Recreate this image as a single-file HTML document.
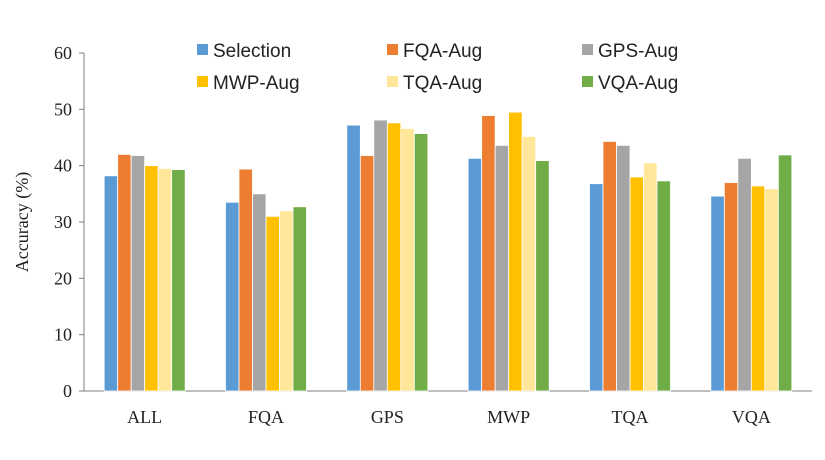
<!DOCTYPE html>
<html><head><meta charset="utf-8"><style>
body{margin:0;background:#fff;}
svg text{font-family:"Liberation Serif",serif;fill:#222;}
svg text.leg{font-family:"Liberation Sans",sans-serif;}
</style></head><body>
<svg id="chart" width="825" height="455"></svg>
<script>
const categories=["ALL","FQA","GPS","MWP","TQA","VQA"];
const seriesNames=["Selection","FQA-Aug","GPS-Aug","MWP-Aug","TQA-Aug","VQA-Aug"];
const colors=["#5b9bd5","#ed7d31","#a5a5a5","#ffc000","#ffe699","#70ad47"];
const selection=[38.2,33.5,47.2,41.3,36.8,34.6];
const fqaAug=[42.0,39.4,41.8,48.9,44.3,37.0];
const gpsAug=[41.8,35.0,48.1,43.6,43.6,41.3];
const mwpAug=[40.0,31.0,47.6,49.5,38.0,36.4];
const tqaAug=[39.5,32.0,46.6,45.2,40.5,35.9];
const vqaAug=[39.3,32.7,45.7,40.9,37.3,41.9];
const yTicks=[0,10,20,30,40,50,60];
const series=[selection,fqaAug,gpsAug,mwpAug,tqaAug,vqaAug];
const NS="http://www.w3.org/2000/svg";
const svg=document.getElementById("chart");
const x0=84,x1=812,yBase=391,yTop=53;
const y=v=>yBase-(v/60)*(yBase-yTop);
const gw=(x1-x0)/categories.length;
const bw=13.5;
function mk(t,a){const e=document.createElementNS(NS,t);for(const k in a)e.setAttribute(k,a[k]);svg.appendChild(e);return e;}
let ax=mk("line",{x1:x0,y1:yTop,x2:x0,y2:yBase,stroke:"#7f7f7f","stroke-width":1});


let bx=mk("line",{x1:x0,y1:yBase,x2:x1,y2:yBase,stroke:"#7f7f7f","stroke-width":1});


yTicks.forEach(t=>{
  const tk=mk("line",{x1:x0-5,y1:y(t),x2:x0,y2:y(t),stroke:"#7f7f7f"});
  
  
  const tl=mk("text",{x:x0-12,y:y(t)+6,"text-anchor":"end","font-size":"18"});
  tl.textContent=t;
  
  
});
const yt=mk("text",{x:0,y:0,"text-anchor":"middle","font-size":"18",transform:`translate(28,${(yTop+yBase)/2}) rotate(-90)`});
yt.textContent="Accuracy (%)";


categories.forEach((c,i)=>{
  const cx=x0+gw*(i+0.5);
  series.forEach((s,j)=>{
    const bxp=cx-3*bw+j*bw;
    const r=mk("rect",{x:bxp,y:y(s[i]),width:bw,height:yBase-y(s[i]),fill:colors[j],stroke:"#fff","stroke-width":0.8});
    
    
  });
  const l=mk("text",{x:cx,y:yBase+32,"text-anchor":"middle","font-size":"18"});
  l.textContent=c;
  
  
});
const legX=[197,387,582],legY=[57,89];
seriesNames.forEach((n,j)=>{
  const lx=legX[j%3],ly=legY[Math.floor(j/3)];
  const sq=mk("rect",{x:lx,y:ly-13,width:11,height:11,fill:colors[j]});
  
  
  const t=mk("text",{x:lx+16,y:ly,"font-size":"19","class":"leg"});
  t.textContent=n;
  
  
});
</script>
</body></html>
